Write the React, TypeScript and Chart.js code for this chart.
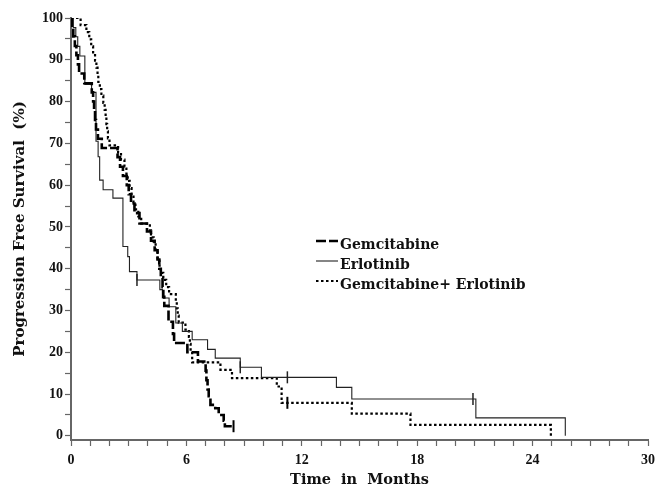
import React, { useEffect, useRef } from "react";
import { Chart, registerables } from "chart.js";

Chart.register(...registerables);

// ---- Data (months, % progression-free) ----
const seriesNames = ["Gemcitabine", "Erlotinib", "Gemcitabine+ Erlotinib"];

const gemTime = [0, 0.05, 0.12, 0.2, 0.28, 0.36, 0.42, 0.69, 1.08, 1.15, 1.2, 1.25, 1.3, 1.4, 1.6, 2.42, 2.55, 2.7, 2.9, 3.0, 3.12, 3.3, 3.56, 3.95, 4.16, 4.35, 4.5, 4.59, 4.67, 4.76, 4.8, 4.85, 5.07, 5.3, 5.36, 6.05, 6.6, 7.0, 7.04, 7.1, 7.16, 7.25, 7.5, 7.68, 7.94, 8.0, 8.45];
const gemSurv = [100, 97.8, 95.6, 93.3, 91.1, 88.9, 86.7, 84.4, 82.2, 80.0, 77.8, 75.6, 73.3, 71.1, 68.9, 66.7, 64.4, 62.2, 60.0, 57.8, 55.6, 53.3, 50.8, 48.9, 46.7, 44.4, 42.2, 40.0, 37.8, 35.6, 33.3, 31.1, 27.3, 24.4, 22.2, 20.0, 17.8, 15.6, 13.3, 11.1, 9.5, 7.4, 6.6, 5.0, 3.6, 2.3, 2.3];
const gemCensor = [8.45];

const erlTime = [0, 0.12, 0.25, 0.35, 0.46, 0.72, 1.07, 1.3, 1.41, 1.49, 1.67, 2.18, 2.7, 2.95, 3.04, 3.43, 4.62, 4.75, 5.1, 5.45, 5.79, 6.3, 7.1, 7.5, 8.8, 9.9, 13.8, 14.6, 21.05, 25.7];
const erlSurv = [100, 97.7, 95.5, 93.2, 90.9, 84.1, 82.2, 70.5, 66.8, 61.2, 58.9, 56.9, 45.3, 42.9, 39.3, 37.3, 35.0, 33.0, 30.9, 27.0, 25.0, 23.0, 20.7, 18.6, 16.4, 14.0, 11.6, 8.8, 4.3, 0];
const erlCensor = [3.43, 8.8, 11.25, 20.9];

const comboTime = [0, 0.5, 0.8, 0.95, 1.05, 1.15, 1.25, 1.32, 1.38, 1.42, 1.5, 1.58, 1.68, 1.75, 1.8, 1.84, 1.88, 1.92, 2.0, 2.45, 2.6, 2.78, 2.88, 2.95, 3.05, 3.15, 3.25, 3.35, 3.5, 3.65, 4.1, 4.16, 4.3, 4.4, 4.5, 4.6, 4.67, 4.8, 4.95, 5.1, 5.45, 5.5, 5.55, 5.6, 5.95, 6.13, 6.18, 6.22, 6.3, 7.77, 8.37, 10.7, 10.95, 14.6, 17.65, 24.95];
const comboSurv = [100, 98.3, 96.6, 94.9, 93.2, 91.5, 89.8, 88.1, 86.4, 84.7, 83.0, 81.4, 79.7, 78.0, 76.3, 74.6, 72.9, 71.2, 69.5, 67.8, 66.1, 64.4, 62.7, 61.0, 59.3, 57.6, 55.9, 54.2, 52.5, 50.8, 49.2, 47.5, 45.8, 44.1, 42.4, 40.7, 39.0, 37.3, 35.6, 33.9, 32.2, 30.5, 28.8, 27.1, 25.4, 23.7, 22.0, 20.3, 17.6, 15.8, 13.8, 11.8, 7.9, 5.3, 2.6, 0];
const comboCensor = [11.25];

const xTicks = [0, 6, 12, 18, 24, 30];

// ---- helpers ----
const toPoints = (t: number[], s: number[]) => t.map((x, i) => ({ x, y: s[i] }));
const survAt = (t: number[], s: number[], at: number) => {
  let v = s[0];
  for (let i = 0; i < t.length; i++) if (t[i] <= at) v = s[i];
  return v;
};
const censorPoints = (c: number[], t: number[], s: number[]) => c.map((x) => ({ x, y: survAt(t, s, x) }));

const styles = [
  { color: "#000", width: 2.6, dash: [10, 3] },
  { color: "#222", width: 1.1, dash: [] as number[] },
  { color: "#000", width: 2.2, dash: [2.5, 2.5] },
];

const legendPlugin = {
  id: "kmLegend",
  afterDraw(chart: any) {
    const { ctx, chartArea } = chart;
    const x0 = chartArea.left + 245;
    const y0 = chartArea.top + 227;
    seriesNames.forEach((name, i) => {
      const y = y0 + i * 20;
      const st = styles[i];
      ctx.save();
      ctx.strokeStyle = st.color;
      ctx.lineWidth = st.width;
      ctx.setLineDash(st.dash);
      ctx.beginPath();
      ctx.moveTo(x0, y - 4);
      ctx.lineTo(x0 + 22, y - 4);
      ctx.stroke();
      ctx.setLineDash([]);
      ctx.font = 'bold 14px "DejaVu Serif"';
      ctx.textBaseline = "middle";
      ctx.textAlign = "left";
      ctx.fillStyle = "#111";
      ctx.fillText(name, x0 + 24, y);
      ctx.restore();
    });
  },
};

export default function App() {
  const ref = useRef<HTMLCanvasElement | null>(null);
  useEffect(() => {
    if (!ref.current) return;
    const curves = [
      [gemTime, gemSurv, gemCensor],
      [erlTime, erlSurv, erlCensor],
      [comboTime, comboSurv, comboCensor],
    ] as number[][][];
    const datasets: any[] = [];
    curves.forEach(([t, s], i) => {
      datasets.push({
        label: seriesNames[i],
        data: toPoints(t, s),
        stepped: true,
        borderColor: styles[i].color,
        borderWidth: styles[i].width,
        borderDash: styles[i].dash,
        pointRadius: 0,
        fill: false,
      });
    });
    curves.forEach(([t, s, c], i) => {
      datasets.push({
        label: seriesNames[i] + " censored",
        data: censorPoints(c, t, s),
        showLine: false,
        pointStyle: "line",
        rotation: 90,
        pointRadius: 6,
        borderColor: styles[i].color,
        borderWidth: i === 1 ? 1.5 : 2,
      });
    });
    const tickFont = { family: '"Liberation Serif"', size: 14, weight: "bold" as const };
    const chart = new Chart(ref.current, {
      type: "line",
      data: { datasets },
      plugins: [legendPlugin],
      options: {
        animation: false,
        responsive: false,
        layout: { padding: { top: 18, right: 8, left: 0, bottom: 0 } },
        plugins: { legend: { display: false }, tooltip: { enabled: false } },
        scales: {
          x: {
            type: "linear",
            min: 0,
            max: 30,
            afterFit: (scale: any) => {
              scale.height = 59;
            },
            afterBuildTicks: (scale: any) => {
              const arr = [];
              for (let v = 0; v <= 30; v++) arr.push({ value: v });
              scale.ticks = arr;
            },
            ticks: {
              autoSkip: false,
              maxRotation: 0,
              color: "#111",
              font: tickFont,
              padding: 6,
              callback: (v: any) => (xTicks.includes(Number(v)) ? String(v) : ""),
            },
            grid: { drawOnChartArea: false, drawTicks: true, tickLength: 6, color: "#666", tickWidth: 1.2 },
            border: { display: true, color: "#666", width: 2 },
            title: {
              display: true,
              text: "Time  in  Months",
              color: "#111",
              font: { family: '"DejaVu Serif"', size: 14.5, weight: "bold" },
              padding: { top: 2, bottom: 10 },
            },
          },
          y: {
            type: "linear",
            min: -1,
            max: 100,
            afterFit: (scale: any) => {
              scale.width = 71;
            },
            afterBuildTicks: (scale: any) => {
              const arr = [];
              for (let v = 0; v <= 100; v += 5) arr.push({ value: v });
              scale.ticks = arr;
            },
            ticks: {
              color: "#111",
              font: tickFont,
              padding: 2,
              callback: (v: any) => (Number(v) % 10 === 0 ? String(v) : ""),
            },
            grid: { drawOnChartArea: false, drawTicks: true, tickLength: 6, color: "#666", tickWidth: 1.2 },
            border: { display: true, color: "#666", width: 2 },
            title: {
              display: true,
              text: "Progression Free Survival  (%)",
              color: "#111",
              font: { family: '"DejaVu Serif"', size: 15, weight: "bold" },
              padding: { top: 11, bottom: 0 },
            },
          },
        },
      },
    });
    return () => chart.destroy();
  }, []);
  return (
    <div style={{ position: "absolute", left: 0, top: 0, width: 661, height: 499, background: "#fff" }}>
      <canvas ref={ref} width={661} height={499} style={{ display: "block" }} />
    </div>
  );
}
